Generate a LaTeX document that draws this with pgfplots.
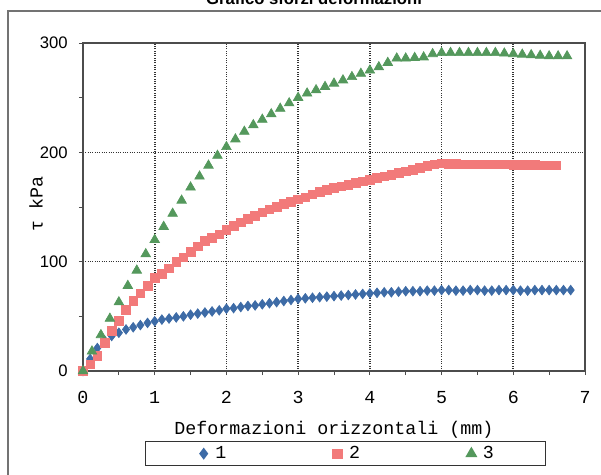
\documentclass[border=0pt]{standalone}
\usepackage{fontspec}
\setmainfont{Liberation Mono}
\newfontfamily\sansf{Liberation Sans}
\usepackage{pgfplots}
\pgfplotsset{compat=1.18}
\usepackage{pgfplotstable}

\definecolor{serieA}{RGB}{61,107,166}
\definecolor{serieB}{RGB}{242,122,122}
\definecolor{serieC}{RGB}{84,152,92}

% prova 1
\pgfplotstableread{
x y
0.0 0
0.1 11
0.2 21
0.3 28
0.4 32
0.5 35
0.6 38
0.7 40
0.8 42
0.9 44
1.0 45.5
1.1 47
1.2 48
1.3 49
1.4 50
1.5 51.5
1.6 52.5
1.7 53.5
1.8 54.5
1.9 55.5
2.0 57
2.1 57.5
2.2 58.5
2.3 59.5
2.4 60
2.5 61
2.6 62
2.7 63
2.8 64
2.9 65
3.0 66
3.1 66.5
3.2 67
3.3 67.5
3.4 68
3.5 68.5
3.6 69
3.7 69.5
3.8 70
3.9 70.5
4.0 71
4.1 71.5
4.2 72
4.3 72
4.4 72.5
4.5 73
4.6 73
4.7 73
4.8 73.5
4.9 73.5
5.0 74
5.1 74
5.2 73.5
5.3 73.5
5.4 74
5.5 74
5.6 73.5
5.7 73.5
5.8 74
5.9 74
6.0 74
6.1 73.5
6.2 73.5
6.3 74
6.4 74
6.5 74
6.6 74
6.7 74
6.8 74
}\provaA

% prova 2
\pgfplotstableread{
x y
0.0 0
0.1 6
0.2 14
0.3 26
0.4 37
0.5 46
0.6 56
0.7 64
0.8 71
0.9 78
1.0 85
1.1 89
1.2 94
1.3 100
1.4 104
1.5 109
1.6 114
1.7 119
1.8 122
1.9 125
2.0 129
2.1 133
2.2 136
2.3 139
2.4 142
2.5 145
2.6 148
2.7 150
2.8 153
2.9 155
3.0 157
3.1 159
3.2 161.5
3.3 164
3.4 166
3.5 167.5
3.6 169
3.7 170.5
3.8 172
3.9 173.5
4.0 175
4.1 176.5
4.2 178
4.3 179.5
4.4 181
4.5 182.5
4.6 184
4.7 186
4.8 187.5
4.9 189
5.0 190
5.1 189.5
5.2 189.5
5.3 189
5.4 189
5.5 189
5.6 189
5.7 189
5.8 189
5.9 189
6.0 188.5
6.1 188.5
6.2 188.5
6.3 188.5
6.4 188
6.5 188
6.6 188
}\provaB

% prova 3
\pgfplotstableread{
x y
0.0 0
0.125 18
0.25 33
0.375 48
0.5 63
0.625 78
0.75 92
0.875 107
1.0 120
1.125 132
1.25 144
1.375 156
1.5 168
1.625 178
1.75 188
1.875 197
2.0 205
2.125 212
2.25 219
2.375 225
2.5 230
2.625 235
2.75 240
2.875 245
3.0 250
3.125 254
3.25 257
3.375 260
3.5 263
3.625 266
3.75 269
3.875 272
4.0 275
4.125 278
4.25 282
4.375 286
4.5 286
4.625 286.5
4.75 287
4.875 290
5.0 291
5.125 291
5.25 291
5.375 291
5.5 291
5.625 291
5.75 291
5.875 290.5
6.0 290
6.125 289.5
6.25 289
6.375 288.5
6.5 288
6.625 288
6.75 288
}\provaC

\begin{document}
\begin{tikzpicture}
\useasboundingbox (-49.8pt,-61.8pt) rectangle (310.8pt,222.6pt);
% cornice esterna del grafico
\draw[black!55, line width=1pt] (-45pt,-70pt) -- (-45pt,216pt) -- (330pt,216pt);
\node[font=\sansf\bfseries\fontsize{10}{12}\selectfont, anchor=base] at (138.6pt,219.8pt) {Grafico sforzi deformazioni};
\begin{axis}[
    at={(0pt,0pt)}, anchor=south west,
    width=301.2pt, height=196.8pt, scale only axis,
    xmin=0, xmax=7, ymin=0, ymax=300,
    xtick={0,1,...,7}, ytick={0,100,200,300},
    minor x tick num=1, minor y tick num=1,
    tick align=outside, xtick pos=left, ytick pos=left,
    major tick length=2.5pt, minor tick length=2.5pt,
    grid=major,
    major grid style={black!80, densely dotted, line width=0.95pt},
    axis line style={black!70, line width=0.9pt},
    every tick/.style={black!70, line width=0.6pt},
    /pgf/number format/assume math mode=true,
    xticklabel style={font=\fontsize{11}{13}\selectfont, yshift=-6pt},
    yticklabel style={font=\sansf\fontsize{10}{12}\selectfont, xshift=-3.2pt},
    xlabel={Deformazioni orizzontali (mm)},
    ylabel={τ kPa},
    xlabel style={font=\fontsize{11}{13}\selectfont, at={(axis description cs:0.5,0)}, anchor=center, yshift=-35.5pt},
    ylabel style={font=\fontsize{11}{13}\selectfont, at={(axis description cs:0,0.51)}, anchor=center, yshift=28.2pt},
    clip mode=individual,
    legend columns=3,
    legend image code/.code={\path (-5pt,0pt) (5pt,0pt); \draw[#1] plot coordinates {(0pt,0pt)};},
    legend style={
        at={(axis description cs:0.523,0)}, anchor=center, yshift=-49.6pt,
        draw=black!80, line width=0.9pt,
        font=\fontsize{11}{13}\selectfont,
        inner xsep=29.5pt, inner ysep=1.3pt,
        nodes={inner sep=1.5pt},
        /tikz/every even column/.append style={column sep=59.8pt},
    },
]
\addplot[only marks, mark=diamond*, mark size=2.9pt, color=serieA] table[x=x,y=y]{\provaA};
\addlegendentry{1}
\addplot[only marks, mark=square*, mark size=2.6pt, color=serieB] table[x=x,y=y]{\provaB};
\addlegendentry{2}
\addplot[only marks, mark=triangle*, mark size=3.3pt, color=serieC] table[x=x,y=y]{\provaC};
\addlegendentry{3}
\end{axis}
\end{tikzpicture}
\end{document}
